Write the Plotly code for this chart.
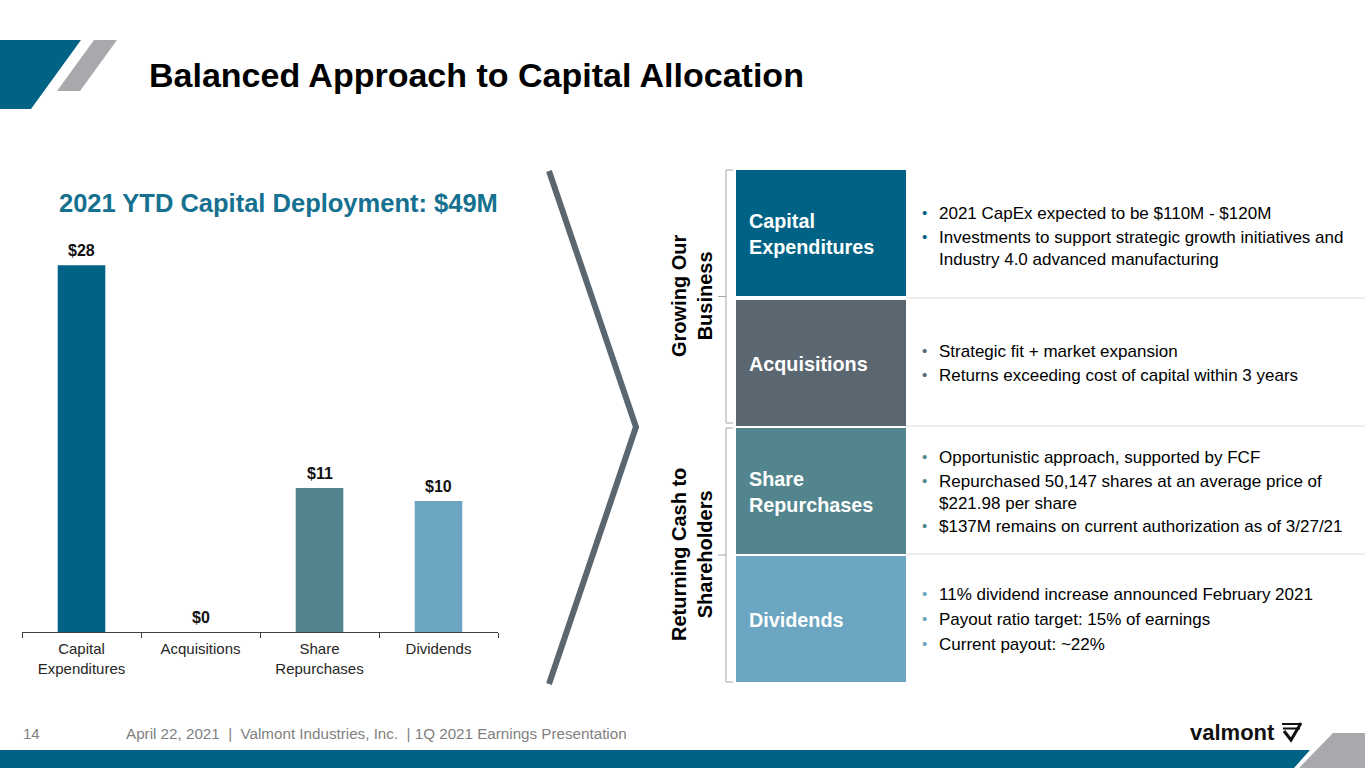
import plotly.graph_objects as go

W, H = 1365, 768

def X(px):
    return px / W

def Y(py):
    return 1 - py / H

# ---------------- data ----------------
categories = ["Capital<br>Expenditures", "Acquisitions", "Share<br>Repurchases", "Dividends"]
values = [28, 0, 11, 10]
value_labels = ["$28", "$0", "$11", "$10"]
bar_colors = ["#006385", "#5A6670", "#52858E", "#6BA5C1"]

box_labels = ["Capital<br>Expenditures", "Acquisitions", "Share<br>Repurchases", "Dividends"]
box_colors = ["#006385", "#5A6670", "#52858E", "#6BA5C1"]
bullets = [
    ["2021 CapEx expected to be $110M - $120M",
     "Investments to support strategic growth initiatives and<br>Industry 4.0 advanced manufacturing"],
    ["Strategic fit + market expansion",
     "Returns exceeding cost of capital within 3 years"],
    ["Opportunistic approach, supported by FCF",
     "Repurchased 50,147 shares at an average price of<br>$221.98 per share",
     "$137M remains on current authorization as of 3/27/21"],
    ["11% dividend increase announced February 2021",
     "Payout ratio target: 15% of earnings",
     "Current payout: ~22%"],
]
group_labels = ["Growing Our<br>Business", "Returning Cash to<br>Shareholders"]

title_text = "Balanced Approach to Capital Allocation"
subtitle_text = "2021 YTD Capital Deployment: $49M"
footer_page = "14"
footer_text = "April 22, 2021  |  Valmont Industries, Inc.  | 1Q 2021 Earnings Presentation"

FONT = "Arial, Liberation Sans, Helvetica, sans-serif"

# ---------------- figure ----------------
fig = go.Figure()
fig.add_trace(go.Bar(
    x=categories, y=values,
    marker=dict(color=bar_colors, line=dict(width=0)),
    width=0.4, hoverinfo="skip", showlegend=False,
))

annotations = []
shapes = []

# value labels above bars
for c, v, t in zip(categories, values, value_labels):
    annotations.append(dict(
        x=c, y=v, xref="x", yref="y", text=f"<b>{t}</b>", showarrow=False,
        yanchor="bottom", yshift=4, font=dict(family=FONT, size=16, color="#111111")))

# title
annotations.append(dict(x=X(147), y=Y(75), xref="paper", yref="paper", xanchor="left", yanchor="middle",
                        text=f"<b>{title_text}</b>", showarrow=False,
                        font=dict(family=FONT, size=34, color="#000000")))
# subtitle
annotations.append(dict(x=X(57), y=Y(203), xref="paper", yref="paper", xanchor="left", yanchor="middle",
                        text=f"<b>{subtitle_text}</b>", showarrow=False,
                        font=dict(family=FONT, size=25.5, color="#15718F")))

# top-left logo parallelograms
shapes.append(dict(type="path", xref="paper", yref="paper",
                   path=f"M {X(0)},{Y(40)} L {X(81)},{Y(40)} L {X(31)},{Y(109)} L {X(0)},{Y(109)} Z",
                   fillcolor="#006385", line=dict(width=0)))
shapes.append(dict(type="path", xref="paper", yref="paper",
                   path=f"M {X(94)},{Y(40)} L {X(117)},{Y(40)} L {X(80)},{Y(91)} L {X(57)},{Y(91)} Z",
                   fillcolor="#A7A9AC", line=dict(width=0)))

# chevron
shapes.append(dict(type="path", xref="paper", yref="paper",
                   path=f"M {X(549)},{Y(171)} L {X(636)},{Y(427)} L {X(549)},{Y(684)}",
                   line=dict(color="#5A6670", width=6)))

# boxes
box_tops = [170, 300, 428, 556]
box_h = 126
for i, (lbl, col) in enumerate(zip(box_labels, box_colors)):
    t = box_tops[i]
    shapes.append(dict(type="rect", xref="paper", yref="paper",
                       x0=X(736), x1=X(906), y0=Y(t + box_h), y1=Y(t),
                       fillcolor=col, line=dict(width=0)))
    annotations.append(dict(x=X(747), y=Y(t + box_h / 2 + 1), xref="paper", yref="paper",
                            xanchor="left", yanchor="middle", align="left",
                            text=f"<b>{lbl}</b>", showarrow=False,
                            font=dict(family=FONT, size=19.8, color="#FFFFFF")))

# separator lines
for yy in [298, 426, 554]:
    shapes.append(dict(type="line", xref="paper", yref="paper", x0=X(906), x1=X(1365), y0=Y(yy), y1=Y(yy),
                       line=dict(color="#DCDCDC", width=1)))

# brackets
for top, bot in [(170, 423), (428, 682)]:
    mid = (top + bot) / 2
    shapes.append(dict(type="path", xref="paper", yref="paper",
                       path=f"M {X(733)},{Y(top)} L {X(726)},{Y(top)} L {X(726)},{Y(bot)} L {X(733)},{Y(bot)}",
                       line=dict(color="#A6A6A6", width=1)))
    shapes.append(dict(type="line", xref="paper", yref="paper", x0=X(718), x1=X(726), y0=Y(mid), y1=Y(mid),
                       line=dict(color="#A6A6A6", width=1)))

# rotated group labels
for lbl, cy in zip(group_labels, [296, 555]):
    annotations.append(dict(x=X(692), y=Y(cy), xref="paper", yref="paper", xanchor="center", yanchor="middle",
                            text=f"<b>{lbl}</b>", textangle=-90, showarrow=False,
                            font=dict(family=FONT, size=20, color="#000000")))

# bullet texts
bullet_y = [[213, 237], [351, 375], [457, 481, 526], [594, 619, 644]]
for sec, (items, ys) in enumerate(zip(bullets, bullet_y)):
    for txt, yy in zip(items, ys):
        annotations.append(dict(x=X(937), y=Y(yy - 11), xref="paper", yref="paper",
                                xanchor="left", yanchor="top", align="left",
                                text=txt, showarrow=False,
                                font=dict(family=FONT, size=17, color="#000000")))
        annotations.append(dict(x=X(924), y=Y(yy - 11), xref="paper", yref="paper",
                                xanchor="center", yanchor="top",
                                text="•", showarrow=False,
                                font=dict(family=FONT, size=15, color=box_colors[sec])))

# footer band
shapes.append(dict(type="path", xref="paper", yref="paper",
                   path=f"M {X(0)},{Y(750)} L {X(1310)},{Y(750)} L {X(1294)},{Y(768)} L {X(0)},{Y(768)} Z",
                   fillcolor="#006385", line=dict(width=0)))
shapes.append(dict(type="path", xref="paper", yref="paper",
                   path=f"M {X(1333)},{Y(733)} L {X(1365)},{Y(733)} L {X(1365)},{Y(768)} L {X(1299)},{Y(768)} Z",
                   fillcolor="#A7A9AC", line=dict(width=0)))

annotations.append(dict(x=X(21), y=Y(733), xref="paper", yref="paper", xanchor="left", yanchor="middle",
                        text=footer_page, showarrow=False, font=dict(family=FONT, size=15, color="#7F7F7F")))
annotations.append(dict(x=X(124), y=Y(733), xref="paper", yref="paper", xanchor="left", yanchor="middle",
                        text=footer_text, showarrow=False, font=dict(family=FONT, size=15.2, color="#7F7F7F")))

# valmont logo
annotations.append(dict(x=X(1277), y=Y(732), xref="paper", yref="paper", xanchor="right", yanchor="middle",
                        text="<b>valmont</b>", showarrow=False, font=dict(family=FONT, size=22, color="#111111")))
# logo mark: two bars and a V
shapes.append(dict(type="rect", xref="paper", yref="paper", x0=X(1282), x1=X(1301), y0=Y(725), y1=Y(723),
                   fillcolor="#111111", line=dict(width=0)))
shapes.append(dict(type="rect", xref="paper", yref="paper", x0=X(1283), x1=X(1300), y0=Y(729.5), y1=Y(727.5),
                   fillcolor="#111111", line=dict(width=0)))
shapes.append(dict(type="path", xref="paper", yref="paper",
                   path=f"M {X(1284)},{Y(731)} L {X(1291)},{Y(740)} L {X(1301)},{Y(723)}",
                   line=dict(color="#111111", width=3)))

fig.update_layout(
    width=W, height=H,
    margin=dict(l=0, r=0, t=0, b=0),
    paper_bgcolor="#FFFFFF", plot_bgcolor="rgba(0,0,0,0)",
    font=dict(family=FONT),
    showlegend=False,
    bargap=0.6,
    xaxis=dict(domain=[X(22), X(498)], range=[-0.5, 3.5], type="category",
               showline=True, linecolor="#404040", linewidth=1.3,
               ticks="outside", tickson="boundaries", ticklen=5, tickcolor="#404040", tickwidth=1.3,
               ticklabelstandoff=3,
               showgrid=False, zeroline=False,
               tickfont=dict(family=FONT, size=15, color="#262626"), fixedrange=True),
    yaxis=dict(domain=[Y(632), Y(239)], range=[0, 30], visible=False, showgrid=False, zeroline=False,
               fixedrange=True),
    annotations=annotations,
    shapes=shapes,
)

fig.write_html("out.html", config={"displayModeBar": False},
               post_script="document.body.style.margin='0';document.body.style.overflow='hidden';")
